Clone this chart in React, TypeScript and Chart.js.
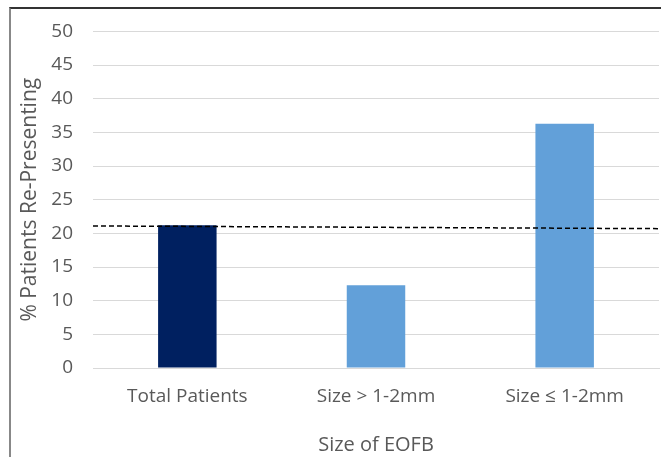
import React, { useEffect, useRef } from "react";
import { Chart, registerables } from "chart.js";

Chart.register(...registerables);

const categories = ["Total Patients", "Size > 1-2mm", "Size ≤ 1-2mm"];
const values = [21.2, 12.3, 36.3];
const barColors = ["#002060", "#62A0D9", "#62A0D9"];
const referenceLine = [21.1, 20.7];
const yMin = 0;
const yMax = 50;
const yStep = 5;
const yTitle = "% Patients Re-Presenting";
const xTitle = "Size of EOFB";

const FONT = "'Open Sans', 'DejaVu Sans', sans-serif";
const TEXT = "#595959";

export default function App() {
  const ref = useRef<HTMLCanvasElement | null>(null);

  useEffect(() => {
    if (!ref.current) return;
    const chart = new Chart(ref.current, {
      type: "bar",
      data: {
        labels: categories,
        datasets: [
          {
            type: "line",
            data: referenceLine.map((v, i) => ({ x: i, y: v })),
            xAxisID: "x2",
            borderColor: "#000000",
            borderWidth: 1.5,
            borderDash: [5, 3],
            pointRadius: 0,
            fill: false,
            order: 0,
          } as any,
          {
            type: "bar",
            data: values,
            backgroundColor: barColors,
            borderWidth: 0,
            barPercentage: 0.31,
            categoryPercentage: 1,
            grouped: false,
            order: 1,
          } as any,
        ],
      },
      options: {
        responsive: false,
        animation: false,
        layout: { padding: { left: 0, right: 2, top: 31, bottom: 0 } },
        plugins: { legend: { display: false }, tooltip: { enabled: false } },
        scales: {
          x: {
            type: "category",
            grid: { display: false, drawTicks: false },
            border: { display: true, color: "#d9d9d9", width: 1 },
            ticks: { color: TEXT, font: { family: FONT, size: 19 }, padding: 17, maxRotation: 0 },
            title: {
              display: true,
              text: xTitle,
              color: TEXT,
              font: { family: FONT, size: 20 },
              padding: { top: 8, bottom: 0 },
            },
            afterFit: (s: any) => {
              s.height = 89;
            },
          },
          x2: {
            type: "linear",
            display: false,
            offset: false,
            min: 0,
            max: 1,
          },
          y: {
            min: yMin,
            max: yMax,
            ticks: { stepSize: yStep, color: TEXT, font: { family: FONT, size: 19 }, padding: 20 },
            grid: { color: "#d9d9d9", drawTicks: false, lineWidth: 1 },
            border: { display: false },
            title: {
              display: true,
              text: yTitle,
              color: TEXT,
              font: { family: FONT, size: 21 },
              padding: { top: 17, bottom: 0 },
            },
            afterFit: (s: any) => {
              s.width = 93;
            },
          },
        },
      },
    });
    return () => chart.destroy();
  }, []);

  return (
    <div style={{ position: "fixed", left: 0, top: 0, width: 661, height: 457, background: "#fff" }}>
      <div
        style={{
          position: "absolute",
          left: 9,
          top: 7,
          right: 0,
          bottom: 0,
          borderTop: "2px solid #333",
          borderLeft: "2px solid #888",
        }}
      />
      <canvas ref={ref} width={661} height={457} style={{ position: "absolute", left: 0, top: 0 }} />
    </div>
  );
}
